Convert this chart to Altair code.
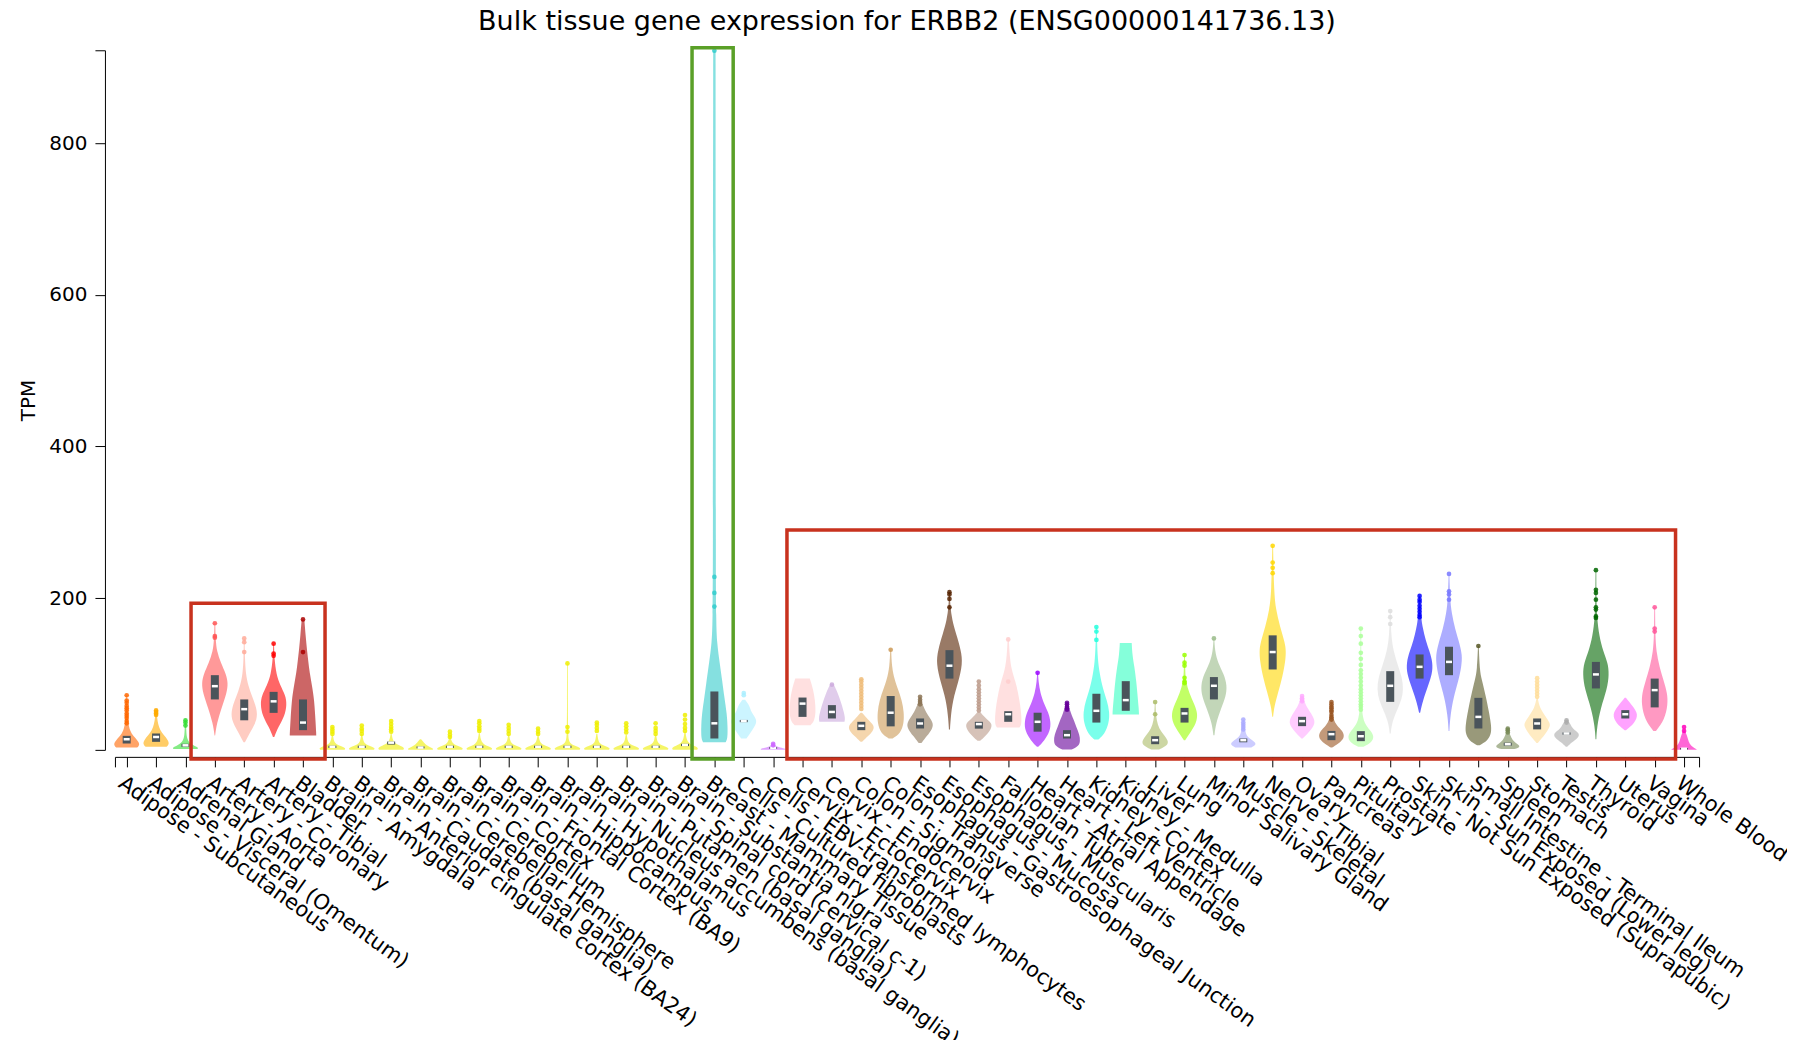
import json
import altair as alt
import pandas as pd

tissues = [
    "Adipose - Subcutaneous", "Adipose - Visceral (Omentum)", "Adrenal Gland",
    "Artery - Aorta", "Artery - Coronary", "Artery - Tibial", "Bladder",
    "Brain - Amygdala", "Brain - Anterior cingulate cortex (BA24)",
    "Brain - Caudate (basal ganglia)", "Brain - Cerebellar Hemisphere",
    "Brain - Cerebellum", "Brain - Cortex", "Brain - Frontal Cortex (BA9)",
    "Brain - Hippocampus", "Brain - Hypothalamus",
    "Brain - Nucleus accumbens (basal ganglia)", "Brain - Putamen (basal ganglia)",
    "Brain - Spinal cord (cervical c-1)", "Brain - Substantia nigra",
    "Breast - Mammary Tissue", "Cells - Cultured fibroblasts",
    "Cells - EBV-transformed lymphocytes", "Cervix - Ectocervix",
    "Cervix - Endocervix", "Colon - Sigmoid", "Colon - Transverse",
    "Esophagus - Gastroesophageal Junction", "Esophagus - Mucosa",
    "Esophagus - Muscularis", "Fallopian Tube", "Heart - Atrial Appendage",
    "Heart - Left Ventricle", "Kidney - Cortex", "Kidney - Medulla", "Liver",
    "Lung", "Minor Salivary Gland", "Muscle - Skeletal", "Nerve - Tibial",
    "Ovary", "Pancreas", "Pituitary", "Prostate",
    "Skin - Not Sun Exposed (Suprapubic)", "Skin - Sun Exposed (Lower leg)",
    "Small Intestine - Terminal Ileum", "Spleen", "Stomach", "Testis",
    "Thyroid", "Uterus", "Vagina", "Whole Blood",
]

colors = [
    "#FF6600", "#FFAA00", "#33DD33", "#FF5555", "#FFAA99", "#FF0000", "#AA0000",
    "#EEEE00", "#EEEE00", "#EEEE00", "#EEEE00", "#EEEE00", "#EEEE00", "#EEEE00",
    "#EEEE00", "#EEEE00", "#EEEE00", "#EEEE00", "#EEEE00", "#EEEE00",
    "#33CCCC", "#AAEEFF", "#CC66FF", "#FFCCCC", "#CCAADD", "#EEBB77", "#CC9955",
    "#8B7355", "#552200", "#BB9988", "#FFCCCC", "#9900FF", "#660099", "#22FFDD",
    "#33FFC2", "#AABB66", "#99FF00", "#99BB88", "#AAAAFF", "#FFD700", "#FFAAFF",
    "#995522", "#AAFF99", "#DDDDDD", "#0000FF", "#7777FF", "#555522", "#778855",
    "#FFDD99", "#AAAAAA", "#006600", "#FF66FF", "#FF5599", "#FF00BB",
]

# violin outline knots: TPM value and relative density width (1 = full width)
violin_tpm = [
    [3, 7, 12, 18, 25, 35, 50, 72],
    [4, 8, 13, 19, 26, 34, 42, 52],
    [1, 3, 6, 10, 16, 25, 39],
    [19, 35, 55, 75, 88, 100, 115, 130, 145, 167],
    [10, 25, 40, 55, 70, 85, 100, 120, 147],
    [17, 30, 45, 60, 72, 85, 100, 120, 140],
    [19, 22, 37, 66, 85, 102, 117, 132, 150, 172],
    [0, 1.5, 3.5, 6, 9, 13, 20],
    [0, 1.5, 3.5, 6, 9, 13, 21],
    [0, 1.5, 4, 7, 10, 14, 22],
    [0, 1.5, 3.5, 6, 9, 11, 14],
    [0, 1.5, 3.5, 6, 9, 13, 18],
    [0, 1.5, 3.5, 6, 9, 14, 22],
    [0, 1.5, 3.5, 6, 9, 13, 20],
    [0, 1.5, 3.5, 6, 9, 13, 19],
    [0, 1.5, 3.5, 6, 9, 13, 20, 60, 114],
    [0, 1.5, 3.5, 6, 9, 13, 21],
    [0, 1.5, 3.5, 6, 9, 13, 20],
    [0, 1.5, 3.5, 6, 9, 13, 20],
    [0, 1.5, 4, 7, 10, 15, 24],
    [10, 15, 30, 47, 70, 90, 115, 140, 170, 250, 500, 922],
    [15, 25, 33, 40, 50, 58, 66],
    [0, 1.5, 3, 5, 8],
    [32.6, 38, 50, 65, 80, 94],
    [37, 42, 50, 62, 75, 86.7],
    [10.6, 18, 25, 32, 40, 49],
    [15, 22, 35, 50, 65, 80, 92, 110, 132],
    [9, 18, 28, 36, 45, 55, 62, 70],
    [27, 40, 66, 89, 114, 131, 153, 171, 190, 208],
    [12, 20, 28, 35, 42, 50],
    [29.5, 33, 45, 60, 75, 90, 105, 125, 145.6],
    [4, 12, 25, 37, 50, 60, 75, 90, 101.6],
    [0.5, 5, 12, 20, 30, 38, 48, 62],
    [13.7, 20, 35, 50, 65, 80, 100, 120, 145, 162],
    [46.7, 55, 70, 90, 110, 125, 141],
    [0.5, 6, 12, 20, 28, 38, 50, 63],
    [12.8, 22, 35, 48, 60, 75, 90, 105, 125],
    [19.4, 35, 55, 70, 85, 100, 115, 130, 147],
    [3, 7, 11, 16, 22, 30, 40],
    [43.6, 57, 75, 97, 118, 130, 140, 164, 185, 207, 269],
    [15, 22, 30, 38, 48, 58, 66, 71],
    [3, 10, 17, 25, 32, 40, 50, 63],
    [4, 10, 18, 25, 35, 50, 80, 120, 160],
    [21.6, 35, 50, 65, 80, 95, 110, 130, 150, 183],
    [49, 65, 85, 100, 115, 130, 145, 160, 175, 203],
    [25, 45, 70, 90, 110, 125, 140, 160, 180, 200, 230],
    [6, 12, 22, 35, 50, 72, 93, 105, 137],
    [1, 4, 8, 13, 19, 28],
    [9.2, 20, 30, 35, 45, 55, 67.8],
    [4, 10, 16, 22, 28, 34, 39],
    [14, 30, 55, 80, 100, 115, 130, 150, 175, 200, 237],
    [26, 35, 47, 58, 68.6],
    [25, 40, 60, 75, 90, 110, 130, 150, 188],
    [0, 3, 8, 14, 20, 26],
]

violin_width = [
    [0.8, 1.0, 0.85, 0.5, 0.25, 0.12, 0.06, 0.03],
    [0.8, 1.0, 0.9, 0.6, 0.3, 0.15, 0.08, 0.04],
    [0.9, 1.0, 0.6, 0.25, 0.1, 0.06, 0.04],
    [0.02, 0.15, 0.5, 0.9, 1.0, 0.85, 0.45, 0.15, 0.06, 0.03],
    [0.05, 0.5, 1.0, 0.95, 0.6, 0.3, 0.12, 0.05, 0.03],
    [0.05, 0.35, 0.85, 1.0, 0.9, 0.5, 0.2, 0.06, 0.03],
    [1.0, 1.0, 0.95, 0.85, 0.68, 0.5, 0.4, 0.3, 0.2, 0.1],
    [0.9, 1.0, 0.9, 0.45, 0.2, 0.1, 0.04],
    [0.9, 1.0, 0.9, 0.45, 0.2, 0.1, 0.04],
    [0.9, 1.0, 0.9, 0.45, 0.25, 0.1, 0.04],
    [0.9, 1.0, 0.75, 0.45, 0.3, 0.2, 0.05],
    [0.9, 1.0, 0.9, 0.45, 0.2, 0.1, 0.04],
    [0.9, 1.0, 0.9, 0.45, 0.25, 0.1, 0.04],
    [0.9, 1.0, 0.9, 0.45, 0.2, 0.1, 0.04],
    [0.9, 1.0, 0.9, 0.45, 0.2, 0.1, 0.04],
    [0.9, 1.0, 0.9, 0.45, 0.2, 0.1, 0.05, 0.03, 0.03],
    [0.9, 1.0, 0.9, 0.45, 0.2, 0.1, 0.04],
    [0.9, 1.0, 0.9, 0.45, 0.2, 0.1, 0.04],
    [0.9, 1.0, 0.9, 0.45, 0.2, 0.1, 0.04],
    [0.9, 1.0, 0.9, 0.45, 0.25, 0.1, 0.04],
    [0.85, 1.0, 1.0, 0.95, 0.75, 0.6, 0.4, 0.2, 0.13, 0.11, 0.1, 0.09],
    [0.2, 0.6, 0.9, 1.0, 0.55, 0.45, 0.1],
    [0.9, 1.0, 0.5, 0.2, 0.05],
    [0.6, 0.9, 1.0, 0.95, 0.8, 0.55],
    [0.95, 1.0, 0.9, 0.7, 0.45, 0.12],
    [0.05, 0.5, 0.9, 1.0, 0.5, 0.05],
    [0.15, 0.75, 1.0, 1.0, 0.85, 0.55, 0.3, 0.08, 0.04],
    [0.1, 0.5, 0.95, 1.0, 0.6, 0.3, 0.15, 0.05],
    [0.04, 0.08, 0.25, 0.67, 1.0, 0.88, 0.5, 0.2, 0.06, 0.03],
    [0.1, 0.6, 0.95, 1.0, 0.5, 0.1],
    [0.85, 1.0, 1.0, 0.9, 0.75, 0.55, 0.25, 0.1, 0.05],
    [0.05, 0.5, 0.95, 1.0, 0.8, 0.5, 0.2, 0.07, 0.03],
    [0.35, 0.9, 1.0, 0.95, 0.7, 0.55, 0.3, 0.05],
    [0.15, 0.6, 0.95, 1.0, 0.8, 0.5, 0.25, 0.1, 0.05, 0.03],
    [1.0, 0.98, 0.9, 0.8, 0.65, 0.5, 0.45],
    [0.3, 0.95, 1.0, 0.65, 0.3, 0.12, 0.05, 0.03],
    [0.05, 0.4, 0.9, 1.0, 0.75, 0.35, 0.1, 0.05, 0.03],
    [0.04, 0.15, 0.55, 0.9, 1.0, 0.75, 0.3, 0.08, 0.03],
    [0.6, 1.0, 0.85, 0.35, 0.18, 0.1, 0.04],
    [0.03, 0.12, 0.4, 0.75, 0.97, 1.0, 0.95, 0.53, 0.25, 0.1, 0.03],
    [0.05, 0.45, 0.85, 1.0, 0.7, 0.3, 0.15, 0.05],
    [0.05, 0.7, 1.0, 0.85, 0.4, 0.15, 0.06, 0.03],
    [0.2, 0.85, 1.0, 0.75, 0.25, 0.08, 0.04, 0.03, 0.03],
    [0.04, 0.12, 0.45, 0.85, 1.0, 0.9, 0.6, 0.25, 0.07, 0.03],
    [0.04, 0.25, 0.65, 0.95, 1.0, 0.75, 0.45, 0.25, 0.1, 0.04],
    [0.03, 0.1, 0.35, 0.7, 0.95, 1.0, 0.8, 0.45, 0.2, 0.08, 0.03],
    [0.1, 0.7, 1.0, 0.95, 0.8, 0.55, 0.25, 0.1, 0.03],
    [0.5, 1.0, 0.7, 0.35, 0.18, 0.05],
    [0.05, 0.6, 0.95, 1.0, 0.6, 0.2, 0.05],
    [0.05, 0.4, 0.9, 1.0, 0.45, 0.3, 0.1],
    [0.03, 0.08, 0.35, 0.85, 1.0, 0.9, 0.55, 0.25, 0.08, 0.04, 0.03],
    [0.05, 0.7, 1.0, 0.55, 0.05],
    [0.1, 0.75, 1.0, 0.95, 0.7, 0.35, 0.12, 0.05, 0.03],
    [1.0, 0.7, 0.4, 0.3, 0.2, 0.05],
]

box_q1 = [8.4, 10.6, 4, 66.5, 39, 48.8, 26,
          2.5, 2.5, 7, 2, 2.5, 2.5, 2.5, 2.5, 2.5, 2.5, 2.5, 2.5, 5,
          15, 36.5, 1.5, 43.5, 41.4, 26, 31, 28.2, 94, 28, 37, 24, 15, 36, 51.5,
          7.5, 36, 66.5, 10, 106, 31.3, 12.8, 11.5, 63.3, 94, 98.5, 28.2, 5.5,
          27, 20, 81, 41.4, 56, 0.5]
box_median = [14, 17, 6, 84, 53.7, 64, 36,
              4, 4, 9.5, 3, 4, 4, 4, 4, 4, 4, 4, 4, 6.5,
              35, 38, 2.5, 61, 50, 31.7, 49, 34.8, 111, 34, 47, 37, 19.4, 51.5, 65.6,
              12.8, 48, 84.5, 12.8, 129, 37.9, 20.7, 18, 84.5, 109.5, 116, 43.5, 7.5,
              34.8, 21.6, 99.5, 47, 78.8, 1.5]
box_q3 = [18.5, 21.6, 8, 98.5, 66.5, 76.5, 66.5,
          5.5, 5.5, 11, 4.5, 5.5, 5.5, 5.5, 5.5, 5.5, 5.5, 5.5, 5.5, 8,
          77, 39.5, 3.5, 69, 59, 37, 71, 41.4, 131.5, 37, 51, 49, 26, 74, 90.6,
          18, 55.4, 96, 15, 151, 43.6, 25, 24.7, 103.8, 125.8, 136, 68.6, 9.5,
          41.4, 23, 116, 52.4, 94, 2.5]

outliers = [
    [72, 65, 62, 58, 55, 52, 48, 45, 42, 38, 35],
    [52, 50, 48, 46],
    [39, 36, 32],
    [167, 150, 148],
    [147, 142, 129],
    [140, 127, 124],
    [172, 129],
    [30, 27, 24, 21],
    [32, 28, 25, 21],
    [38, 34, 30, 27, 24],
    [],
    [24, 20, 17],
    [38, 35, 31, 28, 25],
    [33, 29, 25, 21],
    [28, 24, 21],
    [114, 30, 24],
    [36, 33, 29, 25],
    [35, 31, 27, 23],
    [35, 29, 25, 21],
    [46, 40, 34, 29, 25],
    [922, 228, 207, 189],
    [75, 72],
    [8, 6],
    [],
    [86],
    [93, 90, 86, 82, 78, 74, 70, 66, 62, 58, 54],
    [132],
    [70, 66, 63, 60],
    [208, 205, 199, 188],
    [90, 85, 80, 76, 72, 68, 64, 60, 56, 52],
    [145.6, 90],
    [101.6],
    [62, 60, 57, 55, 53],
    [162, 156, 145],
    [],
    [63, 47],
    [125, 115, 111, 95, 90, 88],
    [147],
    [40, 36, 33, 30, 27],
    [269, 247, 240, 233],
    [71, 68, 66, 64],
    [63, 60, 57, 55, 52, 50, 46, 43, 40],
    [160, 150, 140, 128, 120, 112, 105, 100, 95, 90, 85, 80, 76, 72, 68, 64, 60, 57, 53],
    [183, 175, 166],
    [203, 198, 195, 190, 186, 182, 178, 175],
    [232, 209, 205, 198],
    [137],
    [28, 26, 23],
    [94.6, 90, 86, 82, 78, 74, 70],
    [39, 36],
    [237, 211, 207, 198, 188, 185, 176, 174],
    [],
    [188, 160, 156],
    [30, 25],
]

# highlight frames (tissue-axis position range and TPM range)
highlight_x0 = [2.19, 19.24, 22.47]
highlight_x1 = [6.75, 20.64, 52.71]
highlight_tpm0 = [-12, -12, -12]
highlight_tpm1 = [193.5, 925.7, 290]
highlight_color = ["#C8321E", "#5AA028", "#C8321E"]

title_text = "Bulk tissue gene expression for ERBB2 (ENSG00000141736.13)"

# ---- build tables ----
violin_rows = []
for i, t in enumerate(tissues):
    for v, w in zip(violin_tpm[i], violin_width[i]):
        violin_rows.append({"idx": i, "tissue": t, "tpm": v, "w": w})
violin_df = pd.DataFrame(violin_rows)

box_df = pd.DataFrame({"idx": list(range(len(tissues))), "tissue": tissues,
                       "q1": box_q1, "median": box_median, "q3": box_q3})

pt_rows = []
for i, t in enumerate(tissues):
    for v in outliers[i]:
        pt_rows.append({"idx": i, "tissue": t, "tpm": v})
pt_df = pd.DataFrame(pt_rows)

hl_df = pd.DataFrame({"x0": highlight_x0, "x1": highlight_x1,
                      "t0": highlight_tpm0, "t1": highlight_tpm1,
                      "col": highlight_color})

FONT = "DejaVu Sans"
n = len(tissues)
x_domain = [-0.40, n - 1 + 0.51]
names_js = json.dumps(tissues)
x_label_expr = (f"(datum.value >= 0 && datum.value < {n} && datum.value == floor(datum.value))"
                f" ? {names_js}[datum.value] : ''")

x_scale = alt.Scale(domain=x_domain, nice=False, zero=False)
x_axis = alt.Axis(values=[x_domain[0]] + list(range(n)) + [x_domain[1]],
                  labelExpr=x_label_expr, labelAngle=35.5, labelAlign="left",
                  labelBaseline="top", labelFont=FONT, labelFontSize=21,
                  labelColor="#000000", labelOverlap=False, labelLimit=1200,
                  labelPadding=5, labelFlush=False, labelBound=False,
                  tickSize=10, tickColor="#000000", domainColor="#000000",
                  offset=7, title=None, grid=False)

y_scale = alt.Scale(domain=[0, 922.5], nice=False, zero=True)
y_axis = alt.Axis(values=[0, 200, 400, 600, 800, 922.5],
                  labelExpr="(datum.value == 0 || datum.value > 900) ? '' : datum.label",
                  title="TPM", titleFont=FONT, titleFontSize=20,
                  titleFontWeight="normal", titleColor="#000000", titlePadding=10,
                  labelFont=FONT, labelFontSize=20, labelColor="#000000",
                  labelPadding=8, tickSize=10, tickColor="#000000",
                  domainColor="#000000", offset=10, grid=False)

color_enc = alt.Color("tissue:N", scale=alt.Scale(domain=tissues, range=colors), legend=None)

violins = alt.Chart(violin_df).transform_calculate(
    left="datum.idx - datum.w * 0.45",
    right="datum.idx + datum.w * 0.45",
).mark_area(orient="horizontal", interpolate="basis", opacity=0.6).encode(
    y=alt.Y("tpm:Q", scale=y_scale, axis=y_axis),
    x=alt.X("left:Q", scale=x_scale, axis=x_axis, stack=None),
    x2="right:Q",
    color=color_enc,
)

boxes = alt.Chart(box_df).mark_rule(strokeWidth=8, color="#4A545B").encode(
    x=alt.X("idx:Q", scale=x_scale, axis=x_axis),
    y=alt.Y("q1:Q", scale=y_scale, axis=y_axis),
    y2="q3:Q",
)

medians = alt.Chart(box_df).mark_rule(strokeWidth=2.5, color="white",
                                      xOffset=-3, x2Offset=3).encode(
    x=alt.X("idx:Q", scale=x_scale, axis=x_axis),
    x2="idx:Q",
    y=alt.Y("median:Q", scale=y_scale, axis=y_axis),
)

points = alt.Chart(pt_df).mark_circle(size=22, opacity=0.85).encode(
    x=alt.X("idx:Q", scale=x_scale, axis=x_axis),
    y=alt.Y("tpm:Q", scale=y_scale, axis=y_axis),
    color=color_enc,
)

frames = alt.Chart(hl_df).mark_rect(fillOpacity=0, strokeWidth=3.5).encode(
    x=alt.X("x0:Q", scale=x_scale, axis=x_axis),
    x2="x1:Q",
    y=alt.Y("t0:Q", scale=y_scale, axis=y_axis),
    y2="t1:Q",
    stroke=alt.Stroke("col:N", scale=None),
)

chart = alt.layer(violins, boxes, medians, points, frames).properties(
    width=1585,
    height=700,
    title=alt.Title(title_text, font=FONT, fontSize=27, fontWeight="normal",
                    color="#000000", anchor="middle", offset=10),
    padding={"left": 107, "top": 42, "right": 88, "bottom": 290},
    autosize=alt.AutoSizeParams(type="none"),
).configure_view(stroke=None)

chart.save("out.html", embed_options={"renderer": "svg", "actions": False})
